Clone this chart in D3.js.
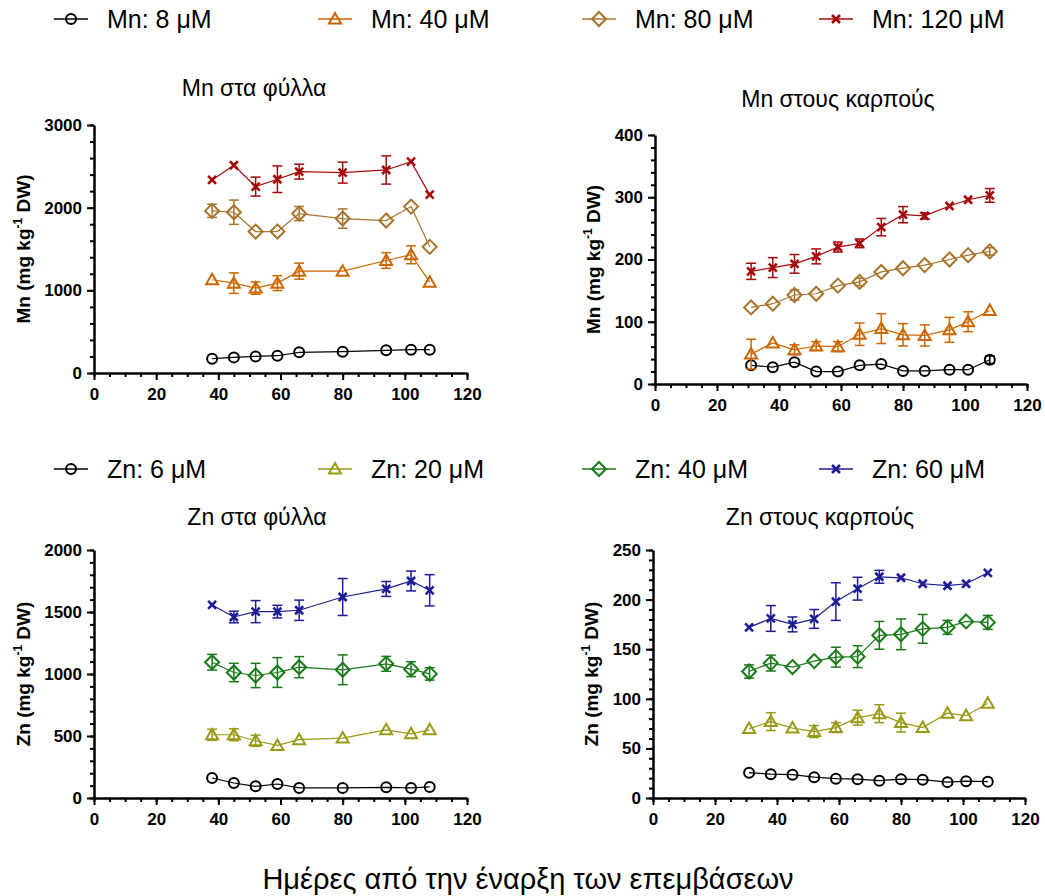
<!DOCTYPE html>
<html>
<head>
<meta charset="utf-8">
<script src="https://cdn.jsdelivr.net/npm/d3@7"></script>
<style>
  body { margin: 0; background: #fff; }
  text { font-family: "Liberation Sans", Arial, sans-serif; }
</style>
</head>
<body>
<div id="chart"></div>
<script>
// days after start of treatments
var daysLeaves = [38, 45, 52, 59, 66, 80, 94, 102, 108];
var daysFruits = [31, 38, 45, 52, 59, 66, 73, 80, 87, 95, 101, 108];

var mnLabels = ["Mn: 8 μM", "Mn: 40 μM", "Mn: 80 μM", "Mn: 120 μM"];
var znLabels = ["Zn: 6 μM", "Zn: 20 μM", "Zn: 40 μM", "Zn: 60 μM"];

// Mn in leaves (one row per treatment)
var mnLeavesMean = [
  [173, 189, 201, 209, 250, 258, 274, 282, 282],
  [1128, 1087, 1027, 1087, 1232, 1232, 1361, 1430, 1099],
  [1961, 1945, 1711, 1711, 1929, 1868, 1844, 2013, 1526],
  [2336, 2513, 2255, 2344, 2436, 2424, 2456, 2557, 2158]
];
var mnLeavesErr = [
  [0, 0, 0, 0, 0, 0, 0, 0, 0],
  [0, 124, 75, 90, 97, 0, 95, 108, 0],
  [80, 147, 0, 0, 85, 117, 0, 0, 0],
  [0, 0, 115, 161, 90, 127, 171, 0, 0]
];

// Mn in fruits
var mnFruitsMean = [
  [30, 27, 35, 20, 20, 30, 32, 21, 21, 23, 23, 39],
  [48, 66, 55, 61, 60, 80, 89, 79, 78, 87, 100, 118],
  [123, 129, 143, 145, 158, 164, 180, 186, 191, 200, 207, 213],
  [181, 187, 193, 205, 220, 226, 252, 272, 270, 286, 296, 303]
];
var mnFruitsErr = [
  [0, 0, 0, 0, 0, 0, 0, 0, 0, 0, 0, 6],
  [24, 0, 8, 7, 8, 18, 24, 18, 17, 20, 16, 0],
  [0, 0, 8, 0, 0, 6, 0, 0, 0, 0, 0, 6],
  [13, 16, 15, 12, 8, 7, 14, 13, 5, 0, 0, 11]
];

// Zn in leaves
var znLeavesMean = [
  [161, 121, 94, 113, 81, 81, 86, 81, 89],
  [510, 510, 462, 424, 470, 483, 550, 518, 550],
  [1095, 1012, 988, 1012, 1055, 1034, 1082, 1039, 1001],
  [1557, 1460, 1503, 1503, 1514, 1621, 1686, 1750, 1675]
];
var znLeavesErr = [
  [0, 0, 0, 0, 0, 0, 0, 0, 0],
  [45, 48, 45, 0, 0, 0, 0, 0, 0],
  [63, 74, 98, 120, 85, 120, 60, 60, 50],
  [0, 47, 89, 51, 82, 149, 60, 80, 126]
];

// Zn in fruits
var znFruitsMean = [
  [25.5, 24, 23.5, 21, 19.5, 19, 17.5, 19, 18.5, 16, 17, 16.5],
  [70, 77, 70.5, 67, 71, 81, 85, 76, 71, 85.5, 83, 95.5],
  [127.5, 136, 132, 138, 142, 142.5, 164, 165, 170.5, 172, 178, 177],
  [172, 181, 175, 180.5, 198, 211, 223, 222, 216, 214, 216, 227]
];
var znFruitsErr = [
  [0, 0, 0, 0, 0, 0, 0, 0, 0, 0, 0, 0],
  [0, 9, 0, 6, 5, 7.5, 9, 9.5, 0, 0, 0, 0],
  [6.7, 8, 0, 0, 10, 11, 14, 15.5, 14.5, 7, 0, 7],
  [0, 13, 7.5, 9.5, 19, 11.5, 6.5, 0, 0, 0, 0, 0]
];

var mnColors = ["#000000", "#cc6600", "#a8742c", "#a50a0a"];
var znColors = ["#000000", "#999915", "#187a18", "#1c1c96"];
var shapes = ["circle", "triangle", "diamond", "cross"];

var svg = d3.select("#chart").append("svg")
            .attr("width", 1045)
            .attr("height", 896);

function drawMarker(g, shape, color) {
  if (shape == "circle") {
    g.append("circle").attr("r", 5).attr("fill", "none")
     .attr("stroke", color).attr("stroke-width", 2);
  } else if (shape == "triangle") {
    g.append("path").attr("d", "M0,-6L6,4.5L-6,4.5Z").attr("fill", "none")
     .attr("stroke", color).attr("stroke-width", 2);
  } else if (shape == "diamond") {
    g.append("path").attr("d", "M0,-7L7,0L0,7L-7,0Z").attr("fill", "none")
     .attr("stroke", color).attr("stroke-width", 2);
  } else {
    g.append("path").attr("d", "M-4,-4L4,4M-4,4L4,-4").attr("fill", "none")
     .attr("stroke", color).attr("stroke-width", 2.6);
  }
}

function drawLegend(y, labels, colors) {
  var xs = [71, 335, 599, 836];
  labels.forEach(function (lab, i) {
    var g = svg.append("g").attr("transform", "translate(" + xs[i] + "," + y + ")");
    g.append("line").attr("x1", -17).attr("x2", 17)
     .attr("stroke", colors[i]).attr("stroke-width", 1.5);
    drawMarker(g, shapes[i], colors[i]);
    g.append("text").attr("x", 36).attr("y", 9)
     .attr("font-size", "25px").attr("fill", "#000").text(lab);
  });
}

function drawPanel(p) {
  var x = d3.scaleLinear().domain([0, 120]).range([p.x0, p.x1]);
  var y = d3.scaleLinear().domain([0, p.yMax]).range([p.yBot, p.yTop]);

  // minor ticks
  svg.append("g").attr("transform", "translate(0," + p.yBot + ")")
     .call(d3.axisBottom(x).tickValues(d3.range(0, 121, 5)).tickSize(4).tickFormat(""))
     .call(function (g) { g.select(".domain").remove(); });
  svg.append("g").attr("transform", "translate(" + p.x0 + ",0)")
     .call(d3.axisLeft(y).tickValues(d3.range(0, p.yMax + 0.001, p.yMinor)).tickSize(4).tickFormat(""))
     .call(function (g) { g.select(".domain").remove(); });

  var xAxis = svg.append("g").attr("transform", "translate(0," + p.yBot + ")")
     .call(d3.axisBottom(x).tickValues([0, 20, 40, 60, 80, 100, 120])
           .tickSize(7).tickSizeOuter(0).tickPadding(8).tickFormat(d3.format("d")));
  var yAxis = svg.append("g").attr("transform", "translate(" + p.x0 + ",0)")
     .call(d3.axisLeft(y).tickValues(d3.range(0, p.yMax + 0.001, p.yMajor))
           .tickSize(7).tickSizeOuter(0).tickPadding(5).tickFormat(d3.format("d")));

  [xAxis, yAxis].forEach(function (a) {
    a.selectAll("text").attr("font-size", "17px").attr("font-weight", "bold")
     .attr("fill", "#000").style("font-family", "'Liberation Sans', Arial, sans-serif");
    a.select(".domain").attr("stroke-width", 2.5);
  });
  svg.selectAll(".tick line").attr("stroke-width", 2);

  // title
  svg.append("text").attr("x", p.titleX).attr("y", p.titleY)
     .attr("text-anchor", "middle").attr("font-size", "23px").text(p.title);

  // y label
  var yl = svg.append("text")
     .attr("transform", "translate(" + p.ylabelX + "," + ((p.yTop + p.yBot) / 2) + ") rotate(-90)")
     .attr("text-anchor", "middle").attr("font-size", "19px").attr("font-weight", "bold");
  yl.append("tspan").text(p.element + " (mg kg");
  yl.append("tspan").text("-1").attr("font-size", "12px").attr("dy", -8);
  yl.append("tspan").text(" DW)").attr("dy", 8);

  var line = d3.line()
     .x(function (d) { return x(d[0]); })
     .y(function (d) { return y(d[1]); });

  p.mean.forEach(function (vals, s) {
    var color = p.colors[s];
    var pts = vals.map(function (v, i) { return [p.days[i], v, p.err[s][i]]; });

    svg.append("path").datum(pts).attr("d", line)
       .attr("fill", "none").attr("stroke", color).attr("stroke-width", 1.2);

    pts.forEach(function (d) {
      if (d[2] > 0) {
        var cx = x(d[0]), hi = y(d[1] + d[2]), lo = y(d[1] - d[2]);
        var eb = svg.append("g").attr("stroke", color).attr("stroke-width", 1.5);
        eb.append("line").attr("x1", cx).attr("x2", cx).attr("y1", hi).attr("y2", lo);
        eb.append("line").attr("x1", cx - 5).attr("x2", cx + 5).attr("y1", hi).attr("y2", hi);
        eb.append("line").attr("x1", cx - 5).attr("x2", cx + 5).attr("y1", lo).attr("y2", lo);
      }
      var g = svg.append("g").attr("transform", "translate(" + x(d[0]) + "," + y(d[1]) + ")");
      drawMarker(g, shapes[s], color);
    });
  });
}

drawLegend(19, mnLabels, mnColors);
drawLegend(469, znLabels, znColors);

drawPanel({ x0: 94, x1: 467, yTop: 125, yBot: 373, yMax: 3000, yMajor: 1000, yMinor: 200,
            days: daysLeaves, mean: mnLeavesMean, err: mnLeavesErr, colors: mnColors,
            title: "Mn στα φύλλα", titleX: 254, titleY: 96, element: "Mn", ylabelX: 30 });
drawPanel({ x0: 655, x1: 1027, yTop: 135, yBot: 384, yMax: 400, yMajor: 100, yMinor: 20,
            days: daysFruits, mean: mnFruitsMean, err: mnFruitsErr, colors: mnColors,
            title: "Mn στους καρπούς", titleX: 838, titleY: 107, element: "Mn", ylabelX: 600 });
drawPanel({ x0: 94, x1: 467, yTop: 550, yBot: 798, yMax: 2000, yMajor: 500, yMinor: 100,
            days: daysLeaves, mean: znLeavesMean, err: znLeavesErr, colors: znColors,
            title: "Zn στα φύλλα", titleX: 257, titleY: 525, element: "Zn", ylabelX: 30 });
drawPanel({ x0: 653, x1: 1025, yTop: 550, yBot: 798, yMax: 250, yMajor: 50, yMinor: 10,
            days: daysFruits, mean: znFruitsMean, err: znFruitsErr, colors: znColors,
            title: "Zn στους καρπούς", titleX: 820, titleY: 525, element: "Zn", ylabelX: 598 });

svg.append("text").attr("x", 528).attr("y", 889).attr("text-anchor", "middle")
   .attr("font-size", "29px").text("Ημέρες από την έναρξη των επεμβάσεων");
</script>
</body>
</html>
